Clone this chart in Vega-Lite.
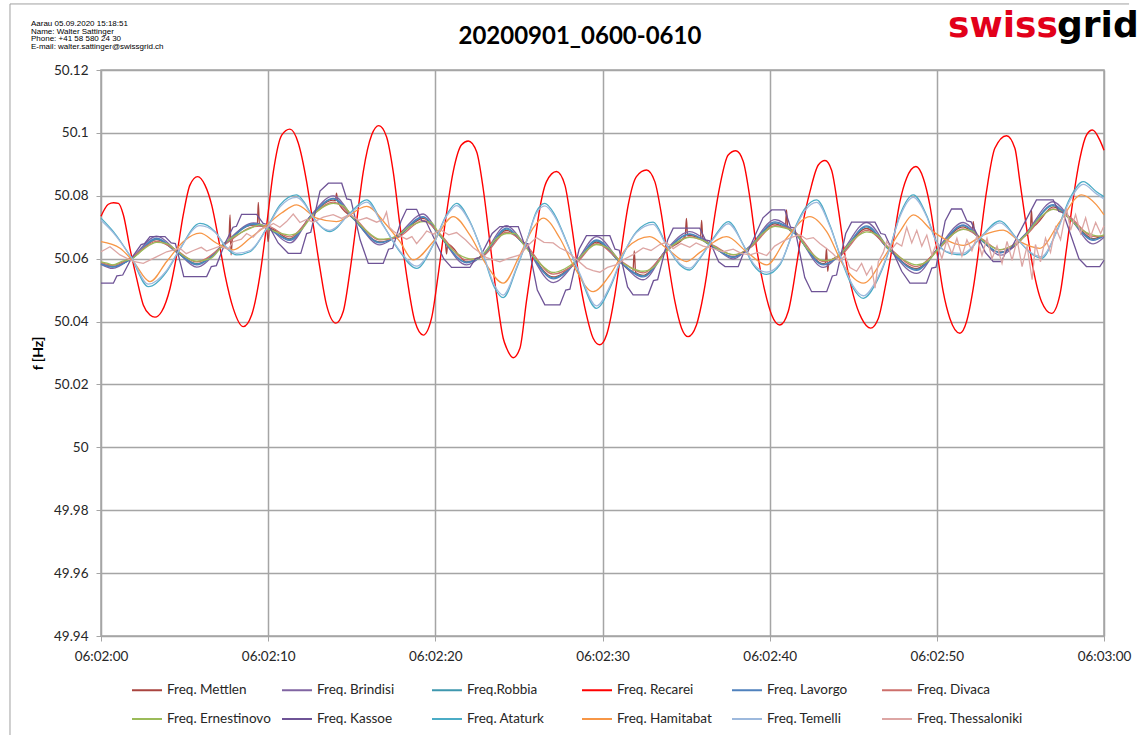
{
"$schema": "https://vega.github.io/schema/vega-lite/v6.json",
"width": 1003, "height": 566,
"autosize": {"type": "none"},
"padding": {"left": 101, "top": 70, "right": 36, "bottom": 99},
"background": "white",
"config": {
 "font": "Lato",
 "view": {"stroke": "#A5A5A5", "strokeWidth": 1.5},
 "axis": {"gridColor": "#A5A5A5", "gridWidth": 1.5, "tickColor": "#A5A5A5", "tickSize": 5, "labelFont": "Lato", "labelFontSize": 13.5, "labelColor": "#262626", "domain": false}
},
"datasets": {
"Mettlen": [{"t":0,"f":50.0584},{"t":0.7,"f":50.0575},{"t":1.85,"f":50.0601},{"t":3.33,"f":50.0661},{"t":4.53,"f":50.0621},{"t":5.72,"f":50.0584},{"t":7.42,"f":50.0648},{"t":7.65,"f":50.066},{"t":7.72,"f":50.0739},{"t":7.78,"f":50.0612},{"t":7.86,"f":50.0662},{"t":8.28,"f":50.069},{"t":9.13,"f":50.0707},{"t":9.35,"f":50.0707},{"t":9.41,"f":50.0779},{"t":9.48,"f":50.0705},{"t":9.91,"f":50.0699},{"t":10.0,"f":50.0654},{"t":10.08,"f":50.0696},{"t":11.3,"f":50.0663},{"t":12.6,"f":50.0738},{"t":13.89,"f":50.0786},{"t":14.02,"f":50.0784},{"t":14.09,"f":50.0808},{"t":14.16,"f":50.0782},{"t":15.09,"f":50.0728},{"t":16.68,"f":50.0653},{"t":17.68,"f":50.0669},{"t":19.28,"f":50.0728},{"t":20.17,"f":50.068},{"t":20.6,"f":50.065},{"t":20.67,"f":50.0615},{"t":20.74,"f":50.0646},{"t":21.87,"f":50.059},{"t":22.86,"f":50.0611},{"t":24.26,"f":50.069},{"t":25.26,"f":50.0648},{"t":27.05,"f":50.0542},{"t":28.45,"f":50.059},{"t":29.64,"f":50.0653},{"t":31.04,"f":50.059},{"t":31.82,"f":50.0558},{"t":31.9,"f":50.0625},{"t":31.98,"f":50.0556},{"t":32.43,"f":50.0547},{"t":33.83,"f":50.0627},{"t":34.95,"f":50.0672},{"t":35.02,"f":50.0728},{"t":35.09,"f":50.0673},{"t":35.22,"f":50.0674},{"t":35.86,"f":50.0666},{"t":35.93,"f":50.0722},{"t":36.0,"f":50.0664},{"t":36.63,"f":50.0637},{"t":37.82,"f":50.0606},{"t":38.82,"f":50.0637},{"t":40.32,"f":50.0711},{"t":40.94,"f":50.07},{"t":41.01,"f":50.0755},{"t":41.08,"f":50.0698},{"t":41.51,"f":50.068},{"t":43.21,"f":50.0584},{"t":43.33,"f":50.0586},{"t":43.4,"f":50.0633},{"t":43.47,"f":50.056},{"t":43.54,"f":50.0588},{"t":44.2,"f":50.0611},{"t":45.8,"f":50.0696},{"t":47.09,"f":50.0632},{"t":48.79,"f":50.0568},{"t":50.08,"f":50.0632},{"t":51.58,"f":50.0701},{"t":52.11,"f":50.0689},{"t":52.18,"f":50.0718},{"t":52.25,"f":50.0686},{"t":52.67,"f":50.0659},{"t":53.77,"f":50.0621},{"t":55.27,"f":50.0674},{"t":55.6,"f":50.07},{"t":55.66,"f":50.0755},{"t":55.72,"f":50.0703},{"t":56.96,"f":50.0765},{"t":57.96,"f":50.0727},{"t":59.35,"f":50.0664},{"t":60,"f":50.0674}],
"Brindisi": [{"t":0,"f":50.0582},{"t":0.7,"f":50.0569},{"t":1.85,"f":50.0604},{"t":3.33,"f":50.0672},{"t":4.53,"f":50.0624},{"t":5.72,"f":50.0573},{"t":7.42,"f":50.0651},{"t":9.13,"f":50.0714},{"t":9.91,"f":50.0702},{"t":11.3,"f":50.065},{"t":12.6,"f":50.0741},{"t":13.89,"f":50.08},{"t":15.09,"f":50.0731},{"t":16.68,"f":50.0644},{"t":17.68,"f":50.0672},{"t":19.28,"f":50.0742},{"t":20.17,"f":50.0683},{"t":21.87,"f":50.058},{"t":22.86,"f":50.0614},{"t":24.26,"f":50.0705},{"t":25.26,"f":50.0651},{"t":27.05,"f":50.0524},{"t":28.45,"f":50.0593},{"t":29.64,"f":50.067},{"t":31.04,"f":50.0593},{"t":32.43,"f":50.0533},{"t":33.83,"f":50.063},{"t":35.22,"f":50.0686},{"t":36.63,"f":50.064},{"t":37.82,"f":50.0599},{"t":38.82,"f":50.064},{"t":40.32,"f":50.0724},{"t":41.51,"f":50.0683},{"t":43.21,"f":50.0572},{"t":44.2,"f":50.0614},{"t":45.8,"f":50.0715},{"t":47.09,"f":50.0635},{"t":48.79,"f":50.0553},{"t":50.08,"f":50.0635},{"t":51.58,"f":50.0715},{"t":52.67,"f":50.0662},{"t":53.77,"f":50.0611},{"t":55.27,"f":50.0677},{"t":56.96,"f":50.0781},{"t":57.96,"f":50.073},{"t":59.35,"f":50.0647},{"t":60,"f":50.0668}],
"Robbia": [{"t":0,"f":50.0584},{"t":0.7,"f":50.0575},{"t":1.85,"f":50.06},{"t":3.33,"f":50.0662},{"t":4.53,"f":50.062},{"t":5.72,"f":50.0583},{"t":7.42,"f":50.0647},{"t":9.13,"f":50.0709},{"t":9.91,"f":50.0698},{"t":11.3,"f":50.0661},{"t":12.6,"f":50.0737},{"t":13.89,"f":50.079},{"t":15.09,"f":50.0727},{"t":16.68,"f":50.0652},{"t":17.68,"f":50.0668},{"t":19.28,"f":50.0732},{"t":20.17,"f":50.0679},{"t":21.87,"f":50.0589},{"t":22.86,"f":50.061},{"t":24.26,"f":50.0694},{"t":25.26,"f":50.0647},{"t":27.05,"f":50.0539},{"t":28.45,"f":50.0589},{"t":29.64,"f":50.0657},{"t":31.04,"f":50.0589},{"t":32.43,"f":50.0545},{"t":33.83,"f":50.0626},{"t":35.22,"f":50.0677},{"t":36.63,"f":50.0636},{"t":37.82,"f":50.0605},{"t":38.82,"f":50.0636},{"t":40.32,"f":50.0714},{"t":41.51,"f":50.0679},{"t":43.21,"f":50.0582},{"t":44.2,"f":50.061},{"t":45.8,"f":50.0701},{"t":47.09,"f":50.0631},{"t":48.79,"f":50.0566},{"t":50.08,"f":50.0631},{"t":51.58,"f":50.0705},{"t":52.67,"f":50.0658},{"t":53.77,"f":50.062},{"t":55.27,"f":50.0673},{"t":56.96,"f":50.0769},{"t":57.96,"f":50.0726},{"t":59.35,"f":50.0661},{"t":60,"f":50.0673}],
"Recarei": [{"t":0,"f":50.0735},{"t":0.44,"f":50.0773},{"t":0.75,"f":50.0778},{"t":1.04,"f":50.0776},{"t":1.34,"f":50.0739},{"t":1.73,"f":50.0633},{"t":2.13,"f":50.0538},{"t":2.53,"f":50.0453},{"t":2.93,"f":50.0421},{"t":3.23,"f":50.0414},{"t":3.63,"f":50.0432},{"t":4.13,"f":50.0506},{"t":4.53,"f":50.0612},{"t":4.92,"f":50.0739},{"t":5.32,"f":50.0834},{"t":5.78,"f":50.0861},{"t":6.22,"f":50.0834},{"t":6.62,"f":50.0771},{"t":7.02,"f":50.0665},{"t":7.42,"f":50.0548},{"t":7.91,"f":50.0442},{"t":8.51,"f":50.0384},{"t":9.01,"f":50.0421},{"t":9.51,"f":50.0548},{"t":9.91,"f":50.0707},{"t":10.31,"f":50.0877},{"t":10.81,"f":50.0993},{"t":11.3,"f":50.1012},{"t":11.8,"f":50.0968},{"t":12.3,"f":50.0845},{"t":12.7,"f":50.0707},{"t":13.1,"f":50.0569},{"t":13.49,"f":50.0453},{"t":14.05,"f":50.0395},{"t":14.49,"f":50.0432},{"t":14.89,"f":50.0559},{"t":15.29,"f":50.0718},{"t":15.69,"f":50.0877},{"t":16.19,"f":50.0993},{"t":16.62,"f":50.1023},{"t":17.08,"f":50.0988},{"t":17.48,"f":50.0877},{"t":17.88,"f":50.0707},{"t":18.28,"f":50.0548},{"t":18.78,"f":50.04},{"t":19.28,"f":50.0357},{"t":19.77,"f":50.041},{"t":20.17,"f":50.0548},{"t":20.57,"f":50.0707},{"t":21.07,"f":50.0877},{"t":21.57,"f":50.0962},{"t":21.97,"f":50.0974},{"t":22.47,"f":50.094},{"t":22.86,"f":50.0824},{"t":23.26,"f":50.0654},{"t":23.66,"f":50.0485},{"t":24.06,"f":50.0347},{"t":24.26,"f":50.0316},{"t":24.66,"f":50.0285},{"t":25.06,"f":50.0315},{"t":25.45,"f":50.0464},{"t":25.85,"f":50.0612},{"t":26.25,"f":50.076},{"t":26.65,"f":50.0845},{"t":27.25,"f":50.0877},{"t":27.75,"f":50.0834},{"t":28.15,"f":50.0707},{"t":28.55,"f":50.0559},{"t":29.04,"f":50.0421},{"t":29.44,"f":50.0347},{"t":29.84,"f":50.0326},{"t":30.24,"f":50.0357},{"t":30.74,"f":50.0485},{"t":31.14,"f":50.0633},{"t":31.54,"f":50.0771},{"t":32.03,"f":50.0861},{"t":32.63,"f":50.0882},{"t":33.13,"f":50.0845},{"t":33.53,"f":50.0739},{"t":33.93,"f":50.0591},{"t":34.33,"f":50.0464},{"t":34.73,"f":50.0379},{"t":35.12,"f":50.0352},{"t":35.62,"f":50.0389},{"t":35.83,"f":50.0432},{"t":36.23,"f":50.0548},{"t":36.63,"f":50.0707},{"t":37.03,"f":50.0834},{"t":37.52,"f":50.093},{"t":37.98,"f":50.0943},{"t":38.42,"f":50.0909},{"t":38.82,"f":50.0792},{"t":39.22,"f":50.0633},{"t":39.72,"f":50.0495},{"t":40.12,"f":50.0421},{"t":40.61,"f":50.0389},{"t":41.11,"f":50.0432},{"t":41.61,"f":50.058},{"t":42.01,"f":50.0718},{"t":42.41,"f":50.0813},{"t":42.91,"f":50.0898},{"t":43.31,"f":50.0912},{"t":43.7,"f":50.0882},{"t":44.1,"f":50.076},{"t":44.5,"f":50.0612},{"t":45.0,"f":50.0485},{"t":45.5,"f":50.041},{"t":46.04,"f":50.0379},{"t":46.5,"f":50.041},{"t":46.9,"f":50.0506},{"t":47.39,"f":50.0654},{"t":47.79,"f":50.0781},{"t":48.19,"f":50.0856},{"t":48.75,"f":50.0893},{"t":49.19,"f":50.0856},{"t":49.58,"f":50.0771},{"t":49.98,"f":50.0633},{"t":50.38,"f":50.0495},{"t":50.78,"f":50.041},{"t":51.38,"f":50.0363},{"t":51.78,"f":50.04},{"t":52.18,"f":50.0506},{"t":52.57,"f":50.0654},{"t":52.97,"f":50.0813},{"t":53.47,"f":50.0951},{"t":54.17,"f":50.0991},{"t":54.67,"f":50.0951},{"t":54.97,"f":50.0845},{"t":55.37,"f":50.0697},{"t":55.76,"f":50.0569},{"t":56.26,"f":50.0464},{"t":56.86,"f":50.0426},{"t":57.36,"f":50.0485},{"t":57.76,"f":50.0633},{"t":58.16,"f":50.0792},{"t":58.56,"f":50.0919},{"t":58.95,"f":50.0993},{"t":59.31,"f":50.1009},{"t":59.75,"f":50.0977},{"t":60,"f":50.0945}],
"Lavorgo": [{"t":0,"f":50.0583},{"t":0.7,"f":50.0573},{"t":1.85,"f":50.0602},{"t":3.33,"f":50.0665},{"t":4.53,"f":50.0622},{"t":5.72,"f":50.058},{"t":7.42,"f":50.0649},{"t":9.13,"f":50.0711},{"t":9.91,"f":50.07},{"t":11.3,"f":50.0658},{"t":12.6,"f":50.0739},{"t":13.89,"f":50.0792},{"t":15.09,"f":50.0729},{"t":16.68,"f":50.065},{"t":17.68,"f":50.067},{"t":19.28,"f":50.0734},{"t":20.17,"f":50.0681},{"t":21.87,"f":50.0587},{"t":22.86,"f":50.0612},{"t":24.26,"f":50.0697},{"t":25.26,"f":50.0649},{"t":27.05,"f":50.0536},{"t":28.45,"f":50.0591},{"t":29.64,"f":50.066},{"t":31.04,"f":50.0591},{"t":32.43,"f":50.0542},{"t":33.83,"f":50.0628},{"t":35.22,"f":50.0679},{"t":36.63,"f":50.0638},{"t":37.82,"f":50.0604},{"t":38.82,"f":50.0638},{"t":40.32,"f":50.0717},{"t":41.51,"f":50.0681},{"t":43.21,"f":50.058},{"t":44.2,"f":50.0612},{"t":45.8,"f":50.0704},{"t":47.09,"f":50.0633},{"t":48.79,"f":50.0563},{"t":50.08,"f":50.0633},{"t":51.58,"f":50.0707},{"t":52.67,"f":50.066},{"t":53.77,"f":50.0618},{"t":55.27,"f":50.0675},{"t":56.96,"f":50.0772},{"t":57.96,"f":50.0728},{"t":59.35,"f":50.0658},{"t":60,"f":50.0672}],
"Divaca": [{"t":0,"f":50.0588},{"t":0.7,"f":50.0579},{"t":1.85,"f":50.0605},{"t":3.33,"f":50.0655},{"t":4.53,"f":50.0626},{"t":5.72,"f":50.059},{"t":7.42,"f":50.0645},{"t":9.13,"f":50.0702},{"t":9.91,"f":50.0704},{"t":11.3,"f":50.0669},{"t":12.6,"f":50.0735},{"t":13.89,"f":50.078},{"t":15.09,"f":50.0733},{"t":16.68,"f":50.066},{"t":17.68,"f":50.0666},{"t":19.28,"f":50.0722},{"t":20.17,"f":50.0685},{"t":21.87,"f":50.0596},{"t":22.86,"f":50.0608},{"t":24.26,"f":50.0684},{"t":25.26,"f":50.0653},{"t":27.05,"f":50.0551},{"t":28.45,"f":50.0587},{"t":29.64,"f":50.0648},{"t":31.04,"f":50.0595},{"t":32.43,"f":50.0555},{"t":33.83,"f":50.0624},{"t":35.22,"f":50.0669},{"t":36.63,"f":50.0642},{"t":37.82,"f":50.0612},{"t":38.82,"f":50.0634},{"t":40.32,"f":50.0705},{"t":41.51,"f":50.0685},{"t":43.21,"f":50.0591},{"t":44.2,"f":50.0608},{"t":45.8,"f":50.069},{"t":47.09,"f":50.0637},{"t":48.79,"f":50.0575},{"t":50.08,"f":50.0629},{"t":51.58,"f":50.0695},{"t":52.67,"f":50.0664},{"t":53.77,"f":50.0628},{"t":55.27,"f":50.0671},{"t":56.96,"f":50.0758},{"t":57.96,"f":50.0732},{"t":59.35,"f":50.0671},{"t":60,"f":50.0672}],
"Ernestinovo": [{"t":0,"f":50.059},{"t":0.35,"f":50.0586},{"t":0.7,"f":50.058},{"t":1.28,"f":50.0592},{"t":1.85,"f":50.06},{"t":2.59,"f":50.0632},{"t":3.33,"f":50.0652},{"t":3.93,"f":50.0648},{"t":4.53,"f":50.0625},{"t":5.13,"f":50.0603},{"t":5.72,"f":50.0592},{"t":6.57,"f":50.0601},{"t":7.42,"f":50.0651},{"t":8.28,"f":50.068},{"t":9.13,"f":50.0701},{"t":9.52,"f":50.0709},{"t":9.91,"f":50.0697},{"t":10.6,"f":50.0683},{"t":11.3,"f":50.0675},{"t":11.95,"f":50.069},{"t":12.6,"f":50.0734},{"t":13.25,"f":50.0763},{"t":13.89,"f":50.0776},{"t":14.49,"f":50.0768},{"t":15.09,"f":50.0731},{"t":15.89,"f":50.0688},{"t":16.68,"f":50.0662},{"t":17.18,"f":50.0664},{"t":17.68,"f":50.0672},{"t":18.48,"f":50.0703},{"t":19.28,"f":50.0718},{"t":19.73,"f":50.0716},{"t":20.17,"f":50.0684},{"t":21.02,"f":50.0628},{"t":21.87,"f":50.0602},{"t":22.37,"f":50.0598},{"t":22.86,"f":50.0615},{"t":23.56,"f":50.0659},{"t":24.26,"f":50.068},{"t":24.76,"f":50.068},{"t":25.26,"f":50.0646},{"t":26.16,"f":50.059},{"t":27.05,"f":50.0556},{"t":27.75,"f":50.0568},{"t":28.45,"f":50.0594},{"t":29.05,"f":50.0626},{"t":29.64,"f":50.0645},{"t":30.34,"f":50.0634},{"t":31.04,"f":50.0593},{"t":31.74,"f":50.057},{"t":32.43,"f":50.056},{"t":33.13,"f":50.0576},{"t":33.83,"f":50.0625},{"t":34.53,"f":50.0654},{"t":35.22,"f":50.0668},{"t":35.93,"f":50.066},{"t":36.63,"f":50.064},{"t":37.23,"f":50.0622},{"t":37.82,"f":50.0613},{"t":38.32,"f":50.0618},{"t":38.82,"f":50.0636},{"t":39.57,"f":50.068},{"t":40.32,"f":50.0703},{"t":40.92,"f":50.0697},{"t":41.51,"f":50.0684},{"t":42.36,"f":50.0625},{"t":43.21,"f":50.0594},{"t":43.71,"f":50.0597},{"t":44.2,"f":50.0614},{"t":45.0,"f":50.066},{"t":45.8,"f":50.0685},{"t":46.45,"f":50.0675},{"t":47.09,"f":50.0634},{"t":47.94,"f":50.0599},{"t":48.79,"f":50.058},{"t":49.44,"f":50.0592},{"t":50.08,"f":50.063},{"t":50.83,"f":50.0672},{"t":51.58,"f":50.0693},{"t":52.13,"f":50.0688},{"t":52.67,"f":50.0662},{"t":53.22,"f":50.064},{"t":53.77,"f":50.0629},{"t":54.52,"f":50.0641},{"t":55.27,"f":50.0673},{"t":56.12,"f":50.0728},{"t":56.96,"f":50.0757},{"t":57.46,"f":50.075},{"t":57.96,"f":50.0726},{"t":58.66,"f":50.0692},{"t":59.35,"f":50.0675},{"t":59.68,"f":50.0672},{"t":60,"f":50.0676}],
"Kassoe": [{"t":0,"f":50.0522},{"t":0.74,"f":50.0522},{"t":0.95,"f":50.0545},{"t":1.3,"f":50.0548},{"t":1.83,"f":50.0602},{"t":2.4,"f":50.0645},{"t":2.6,"f":50.0648},{"t":2.93,"f":50.067},{"t":3.83,"f":50.067},{"t":4.2,"f":50.065},{"t":4.45,"f":50.0648},{"t":4.85,"f":50.0565},{"t":4.95,"f":50.0543},{"t":6.32,"f":50.0543},{"t":6.6,"f":50.0575},{"t":6.9,"f":50.0578},{"t":7.42,"f":50.0649},{"t":7.9,"f":50.07},{"t":8.1,"f":50.0703},{"t":8.41,"f":50.0741},{"t":9.31,"f":50.0741},{"t":9.7,"f":50.0712},{"t":10.0,"f":50.0708},{"t":10.6,"f":50.065},{"t":11.2,"f":50.0617},{"t":11.95,"f":50.0617},{"t":12.3,"f":50.068},{"t":12.55,"f":50.0684},{"t":13.1,"f":50.0815},{"t":13.6,"f":50.084},{"t":14.4,"f":50.084},{"t":14.7,"f":50.079},{"t":14.95,"f":50.0787},{"t":15.5,"f":50.066},{"t":15.99,"f":50.0585},{"t":16.88,"f":50.0585},{"t":17.2,"f":50.063},{"t":17.45,"f":50.0633},{"t":17.95,"f":50.072},{"t":18.28,"f":50.0757},{"t":18.88,"f":50.0757},{"t":19.2,"f":50.072},{"t":19.45,"f":50.0718},{"t":20.5,"f":50.06},{"t":20.97,"f":50.0572},{"t":22.07,"f":50.0572},{"t":22.4,"f":50.06},{"t":22.65,"f":50.0603},{"t":23.4,"f":50.068},{"t":23.86,"f":50.0702},{"t":24.96,"f":50.0702},{"t":25.3,"f":50.065},{"t":25.55,"f":50.0647},{"t":26.1,"f":50.05},{"t":26.55,"f":50.0453},{"t":27.45,"f":50.0453},{"t":27.8,"f":50.05},{"t":28.05,"f":50.0503},{"t":28.6,"f":50.063},{"t":29.04,"f":50.0673},{"t":30.44,"f":50.0673},{"t":30.75,"f":50.063},{"t":31.0,"f":50.0627},{"t":31.5,"f":50.051},{"t":31.83,"f":50.0485},{"t":32.73,"f":50.0485},{"t":33.05,"f":50.053},{"t":33.3,"f":50.0533},{"t":33.9,"f":50.066},{"t":34.23,"f":50.0697},{"t":35.82,"f":50.0697},{"t":36.15,"f":50.066},{"t":36.4,"f":50.0657},{"t":36.95,"f":50.059},{"t":37.33,"f":50.0575},{"t":38.12,"f":50.0575},{"t":38.45,"f":50.062},{"t":38.7,"f":50.0623},{"t":39.6,"f":50.073},{"t":40.12,"f":50.0755},{"t":40.91,"f":50.0755},{"t":41.25,"f":50.07},{"t":41.5,"f":50.0697},{"t":42.1,"f":50.054},{"t":42.51,"f":50.0495},{"t":43.41,"f":50.0495},{"t":43.75,"f":50.0545},{"t":44.0,"f":50.0548},{"t":44.55,"f":50.068},{"t":44.9,"f":50.0716},{"t":46.3,"f":50.0716},{"t":46.65,"f":50.068},{"t":46.9,"f":50.0677},{"t":47.9,"f":50.056},{"t":48.39,"f":50.0522},{"t":49.38,"f":50.0522},{"t":49.7,"f":50.057},{"t":49.95,"f":50.0573},{"t":50.5,"f":50.072},{"t":50.88,"f":50.0758},{"t":51.48,"f":50.0758},{"t":51.8,"f":50.072},{"t":52.05,"f":50.0717},{"t":52.9,"f":50.062},{"t":53.37,"f":50.0591},{"t":53.87,"f":50.0591},{"t":54.2,"f":50.063},{"t":54.45,"f":50.0633},{"t":55.5,"f":50.074},{"t":55.96,"f":50.0787},{"t":56.96,"f":50.0787},{"t":57.3,"f":50.075},{"t":57.55,"f":50.0747},{"t":58.5,"f":50.06},{"t":58.95,"f":50.0575},{"t":59.75,"f":50.0575},{"t":60,"f":50.0595}],
"Ataturk": [{"t":0,"f":50.0729},{"t":0.74,"f":50.0686},{"t":1.83,"f":50.0601},{"t":2.83,"f":50.0511},{"t":3.93,"f":50.0559},{"t":4.63,"f":50.0622},{"t":5.92,"f":50.0712},{"t":6.82,"f":50.0686},{"t":7.52,"f":50.0633},{"t":8.11,"f":50.0612},{"t":8.91,"f":50.0622},{"t":9.91,"f":50.0697},{"t":10.71,"f":50.0771},{"t":11.7,"f":50.0803},{"t":12.2,"f":50.0776},{"t":12.6,"f":50.0739},{"t":13.69,"f":50.0686},{"t":14.89,"f":50.0745},{"t":15.89,"f":50.0787},{"t":16.88,"f":50.0707},{"t":17.88,"f":50.0622},{"t":18.88,"f":50.0569},{"t":19.87,"f":50.0644},{"t":20.67,"f":50.0739},{"t":21.27,"f":50.0776},{"t":22.07,"f":50.0718},{"t":22.86,"f":50.0612},{"t":23.56,"f":50.0506},{"t":24.06,"f":50.0476},{"t":24.86,"f":50.0569},{"t":25.45,"f":50.0654},{"t":26.05,"f":50.075},{"t":26.55,"f":50.0776},{"t":27.15,"f":50.0739},{"t":27.85,"f":50.0654},{"t":28.64,"f":50.0548},{"t":29.64,"f":50.0442},{"t":30.44,"f":50.0506},{"t":31.24,"f":50.0612},{"t":32.03,"f":50.0686},{"t":33.03,"f":50.0716},{"t":33.83,"f":50.0644},{"t":34.63,"f":50.058},{"t":35.22,"f":50.0564},{"t":35.83,"f":50.0601},{"t":36.63,"f":50.0665},{"t":37.52,"f":50.0718},{"t":38.42,"f":50.0644},{"t":39.02,"f":50.058},{"t":39.82,"f":50.055},{"t":40.61,"f":50.058},{"t":41.41,"f":50.0686},{"t":42.11,"f":50.076},{"t":42.81,"f":50.0787},{"t":43.6,"f":50.0707},{"t":44.4,"f":50.058},{"t":45.0,"f":50.0506},{"t":45.6,"f":50.0474},{"t":46.4,"f":50.0527},{"t":47.19,"f":50.0633},{"t":47.79,"f":50.0739},{"t":48.59,"f":50.0803},{"t":49.38,"f":50.0739},{"t":49.98,"f":50.0654},{"t":50.78,"f":50.0617},{"t":51.58,"f":50.0612},{"t":52.57,"f":50.0665},{"t":53.77,"f":50.072},{"t":54.77,"f":50.0665},{"t":55.76,"f":50.0612},{"t":56.26,"f":50.0601},{"t":57.16,"f":50.0686},{"t":57.96,"f":50.0792},{"t":58.76,"f":50.0845},{"t":59.55,"f":50.0813},{"t":60,"f":50.0797}],
"Hamitabat": [{"t":0,"f":50.0654},{"t":1.14,"f":50.0633},{"t":1.93,"f":50.0591},{"t":2.93,"f":50.0527},{"t":3.93,"f":50.0591},{"t":4.92,"f":50.0654},{"t":5.92,"f":50.0681},{"t":6.92,"f":50.0649},{"t":7.91,"f":50.0628},{"t":8.91,"f":50.0665},{"t":9.91,"f":50.0707},{"t":10.8,"f":50.0745},{"t":11.7,"f":50.0771},{"t":12.9,"f":50.0729},{"t":14.09,"f":50.0718},{"t":15.89,"f":50.0766},{"t":17.08,"f":50.0707},{"t":17.88,"f":50.0654},{"t":18.68,"f":50.0596},{"t":19.87,"f":50.0654},{"t":21.07,"f":50.0734},{"t":22.07,"f":50.0675},{"t":23.06,"f":50.058},{"t":24.06,"f":50.0522},{"t":25.06,"f":50.0612},{"t":25.85,"f":50.0697},{"t":26.45,"f":50.0729},{"t":27.45,"f":50.0665},{"t":28.25,"f":50.058},{"t":29.44,"f":50.0495},{"t":30.44,"f":50.0548},{"t":31.44,"f":50.0633},{"t":32.83,"f":50.067},{"t":33.83,"f":50.0633},{"t":35.02,"f":50.0591},{"t":35.83,"f":50.062},{"t":37.42,"f":50.067},{"t":38.62,"f":50.0622},{"t":39.82,"f":50.058},{"t":41.01,"f":50.0665},{"t":42.41,"f":50.0734},{"t":43.41,"f":50.0686},{"t":44.4,"f":50.058},{"t":45.6,"f":50.0522},{"t":46.8,"f":50.0601},{"t":47.79,"f":50.0686},{"t":48.59,"f":50.0739},{"t":49.78,"f":50.0686},{"t":50.78,"f":50.0654},{"t":51.58,"f":50.0642},{"t":52.77,"f":50.0675},{"t":53.97,"f":50.0691},{"t":54.97,"f":50.0654},{"t":56.16,"f":50.0633},{"t":57.36,"f":50.0718},{"t":58.66,"f":50.0803},{"t":59.55,"f":50.0771},{"t":60,"f":50.0739}],
"Temelli": [{"t":0,"f":50.0722},{"t":0.74,"f":50.0682},{"t":1.83,"f":50.0603},{"t":2.83,"f":50.0519},{"t":3.93,"f":50.0563},{"t":4.63,"f":50.0623},{"t":5.92,"f":50.0705},{"t":6.82,"f":50.0684},{"t":7.52,"f":50.0636},{"t":8.11,"f":50.0617},{"t":8.91,"f":50.0626},{"t":9.91,"f":50.0695},{"t":10.71,"f":50.0765},{"t":11.7,"f":50.0795},{"t":12.2,"f":50.0772},{"t":12.6,"f":50.0737},{"t":13.69,"f":50.069},{"t":14.89,"f":50.0742},{"t":15.89,"f":50.078},{"t":16.88,"f":50.0705},{"t":17.88,"f":50.0625},{"t":18.88,"f":50.0576},{"t":19.87,"f":50.0645},{"t":20.67,"f":50.0735},{"t":21.27,"f":50.0769},{"t":22.07,"f":50.0715},{"t":22.86,"f":50.0614},{"t":23.56,"f":50.0513},{"t":24.06,"f":50.0484},{"t":24.86,"f":50.0573},{"t":25.45,"f":50.0654},{"t":26.05,"f":50.0745},{"t":26.55,"f":50.0768},{"t":27.15,"f":50.0733},{"t":27.85,"f":50.0652},{"t":28.64,"f":50.0553},{"t":29.64,"f":50.045},{"t":30.44,"f":50.0512},{"t":31.24,"f":50.0614},{"t":32.03,"f":50.0683},{"t":33.03,"f":50.0709},{"t":33.83,"f":50.0642},{"t":34.63,"f":50.0584},{"t":35.22,"f":50.057},{"t":35.83,"f":50.0604},{"t":36.63,"f":50.0662},{"t":37.52,"f":50.0711},{"t":38.42,"f":50.0645},{"t":39.02,"f":50.0585},{"t":39.82,"f":50.0557},{"t":40.61,"f":50.0584},{"t":41.41,"f":50.0683},{"t":42.11,"f":50.0753},{"t":42.81,"f":50.0779},{"t":43.6,"f":50.0703},{"t":44.4,"f":50.0584},{"t":45.0,"f":50.0513},{"t":45.6,"f":50.0482},{"t":46.4,"f":50.0533},{"t":47.19,"f":50.0634},{"t":47.79,"f":50.0733},{"t":48.59,"f":50.0795},{"t":49.38,"f":50.0735},{"t":49.98,"f":50.0653},{"t":50.78,"f":50.062},{"t":51.58,"f":50.0617},{"t":52.57,"f":50.0664},{"t":53.77,"f":50.0714},{"t":54.77,"f":50.0664},{"t":55.76,"f":50.0615},{"t":56.26,"f":50.0606},{"t":57.16,"f":50.0684},{"t":57.96,"f":50.0785},{"t":58.76,"f":50.0836},{"t":59.55,"f":50.0806},{"t":60,"f":50.079}],
"Thessaloniki": [{"t":0,"f":50.0622},{"t":0.54,"f":50.0638},{"t":1.14,"f":50.0612},{"t":1.93,"f":50.0591},{"t":2.53,"f":50.0585},{"t":3.13,"f":50.0601},{"t":3.93,"f":50.0622},{"t":4.72,"f":50.0633},{"t":5.1,"f":50.0616},{"t":5.52,"f":50.0626},{"t":6.0,"f":50.0636},{"t":6.32,"f":50.0624},{"t":7.12,"f":50.064},{"t":7.6,"f":50.063},{"t":7.91,"f":50.0654},{"t":8.4,"f":50.0662},{"t":8.71,"f":50.068},{"t":9.1,"f":50.0668},{"t":9.51,"f":50.0693},{"t":10.0,"f":50.0702},{"t":10.31,"f":50.0712},{"t":10.7,"f":50.07},{"t":11.1,"f":50.0718},{"t":11.5,"f":50.0742},{"t":11.9,"f":50.0715},{"t":12.3,"f":50.0725},{"t":12.7,"f":50.0716},{"t":13.3,"f":50.0732},{"t":13.89,"f":50.074},{"t":14.4,"f":50.0728},{"t":14.89,"f":50.0741},{"t":15.4,"f":50.0722},{"t":15.89,"f":50.073},{"t":16.49,"f":50.0716},{"t":16.9,"f":50.0725},{"t":17.08,"f":50.0748},{"t":17.25,"f":50.07},{"t":17.48,"f":50.0688},{"t":17.9,"f":50.0672},{"t":18.28,"f":50.0662},{"t":18.6,"f":50.067},{"t":18.88,"f":50.0648},{"t":19.2,"f":50.0668},{"t":19.48,"f":50.0688},{"t":19.9,"f":50.0678},{"t":20.27,"f":50.0693},{"t":20.8,"f":50.0676},{"t":21.27,"f":50.0683},{"t":21.8,"f":50.066},{"t":22.27,"f":50.0635},{"t":22.7,"f":50.0618},{"t":23.06,"f":50.0603},{"t":23.5,"f":50.0596},{"t":23.86,"f":50.059},{"t":24.4,"f":50.0602},{"t":25.06,"f":50.0612},{"t":25.6,"f":50.0645},{"t":26.05,"f":50.0667},{"t":26.5,"f":50.0652},{"t":27.05,"f":50.065},{"t":27.45,"f":50.0634},{"t":27.85,"f":50.0624},{"t":28.4,"f":50.06},{"t":29.04,"f":50.057},{"t":29.44,"f":50.0562},{"t":29.84,"f":50.0557},{"t":30.3,"f":50.0572},{"t":30.84,"f":50.0581},{"t":31.3,"f":50.0598},{"t":31.83,"f":50.0613},{"t":32.43,"f":50.0634},{"t":32.9,"f":50.0626},{"t":33.43,"f":50.0645},{"t":33.8,"f":50.0652},{"t":34.23,"f":50.0632},{"t":34.7,"f":50.0648},{"t":35.22,"f":50.0636},{"t":35.6,"f":50.065},{"t":36.02,"f":50.064},{"t":36.63,"f":50.0632},{"t":37.2,"f":50.0622},{"t":37.82,"f":50.063},{"t":38.3,"f":50.0617},{"t":38.82,"f":50.0612},{"t":39.3,"f":50.062},{"t":39.82,"f":50.061},{"t":40.3,"f":50.064},{"t":40.81,"f":50.0656},{"t":41.3,"f":50.0668},{"t":41.81,"f":50.0676},{"t":42.2,"f":50.0662},{"t":42.61,"f":50.0667},{"t":43.0,"f":50.0648},{"t":43.41,"f":50.0632},{"t":43.8,"f":50.0615},{"t":44.2,"f":50.0592},{"t":44.5,"f":50.061},{"t":44.8,"f":50.0572},{"t":45.2,"f":50.056},{"t":45.5,"f":50.0585},{"t":45.8,"f":50.0548},{"t":46.1,"f":50.0575},{"t":46.3,"f":50.0506},{"t":46.5,"f":50.059},{"t":46.8,"f":50.062},{"t":47.0,"f":50.0655},{"t":47.3,"f":50.063},{"t":47.6,"f":50.065},{"t":47.9,"f":50.064},{"t":48.2,"f":50.07},{"t":48.5,"f":50.065},{"t":48.8,"f":50.069},{"t":49.1,"f":50.064},{"t":49.4,"f":50.0675},{"t":49.7,"f":50.0612},{"t":50.0,"f":50.065},{"t":50.3,"f":50.06},{"t":50.6,"f":50.0658},{"t":50.9,"f":50.0615},{"t":51.2,"f":50.0665},{"t":51.5,"f":50.0608},{"t":51.8,"f":50.066},{"t":52.1,"f":50.0625},{"t":52.4,"f":50.0672},{"t":52.7,"f":50.061},{"t":53.0,"f":50.0665},{"t":53.3,"f":50.06},{"t":53.6,"f":50.064},{"t":53.9,"f":50.0585},{"t":54.2,"f":50.0655},{"t":54.5,"f":50.0595},{"t":54.8,"f":50.066},{"t":55.1,"f":50.0575},{"t":55.4,"f":50.064},{"t":55.7,"f":50.0533},{"t":55.9,"f":50.0645},{"t":56.2,"f":50.059},{"t":56.5,"f":50.0665},{"t":56.8,"f":50.062},{"t":57.1,"f":50.07},{"t":57.4,"f":50.066},{"t":57.76,"f":50.076},{"t":58.0,"f":50.069},{"t":58.3,"f":50.074},{"t":58.6,"f":50.068},{"t":58.9,"f":50.073},{"t":59.2,"f":50.067},{"t":59.5,"f":50.0715},{"t":59.8,"f":50.068},{"t":60,"f":50.0705}]
},
"layer": [
 {"data": {"name": "Mettlen"}, "mark": {"type": "line", "interpolate": "monotone", "strokeWidth": 1.3},
  "encoding": {
   "x": {"field": "t", "type": "quantitative", "scale": {"domain": [0, 60], "nice": false, "zero": false},
     "axis": {"values": [0, 10, 20, 30, 40, 50, 60], "title": null, "grid": true, "labelFlush": false, "labelPadding": 8,
       "labelExpr": "datum.value == 60 ? '06:03:00' : '06:02:' + (datum.value < 10 ? '0' : '') + datum.value"}},
   "y": {"field": "f", "type": "quantitative", "scale": {"domain": [49.94, 50.12], "nice": false, "zero": false},
     "axis": {"values": [49.94, 49.96, 49.98, 50, 50.02, 50.04, 50.06, 50.08, 50.1, 50.12], "format": ".2~f", "title": "f [Hz]", "grid": true,
       "labelPadding": 8, "titleFont": "Lato", "titleFontSize": 14, "titleFontWeight": "bold", "titleColor": "#000000", "titlePadding": 8}},
   "color": {"datum": "Freq. Mettlen", "type": "nominal",
     "scale": {"domain": ["Freq. Mettlen", "Freq. Brindisi", "Freq.Robbia", "Freq. Recarei", "Freq. Lavorgo", "Freq. Divaca", "Freq. Ernestinovo", "Freq. Kassoe", "Freq. Ataturk", "Freq. Hamitabat", "Freq. Temelli", "Freq. Thessaloniki"],
       "range": ["#A9443F", "#8064A2", "#3E97AE", "#FF0000", "#4F81BD", "#CD6F6B", "#9BBB59", "#6E5396", "#4BACC6", "#F79646", "#9DB9DD", "#DDA6A4"]},
     "legend": {"orient": "none", "legendX": 30, "legendY": 604, "columns": 6, "direction": "horizontal", "title": null, "symbolType": "stroke", "symbolSize": 900, "symbolStrokeWidth": 2,
       "labelFont": "Lato", "labelFontSize": 13.5, "labelColor": "#262626", "labelOffset": 4, "rowPadding": 6, "columnPadding": 5, "gridAlign": "all", "labelLimit": 0}}
  }},
 {"data": {"name": "Brindisi"}, "mark": {"type": "line", "interpolate": "monotone", "strokeWidth": 1.3}, "encoding": {"x": {"field": "t", "type": "quantitative"}, "y": {"field": "f", "type": "quantitative"}, "color": {"datum": "Freq. Brindisi", "type": "nominal"}}},
 {"data": {"name": "Robbia"}, "mark": {"type": "line", "interpolate": "monotone", "strokeWidth": 1.3}, "encoding": {"x": {"field": "t", "type": "quantitative"}, "y": {"field": "f", "type": "quantitative"}, "color": {"datum": "Freq.Robbia", "type": "nominal"}}},
 {"data": {"name": "Recarei"}, "mark": {"type": "line", "interpolate": "monotone", "strokeWidth": 1.4}, "encoding": {"x": {"field": "t", "type": "quantitative"}, "y": {"field": "f", "type": "quantitative"}, "color": {"datum": "Freq. Recarei", "type": "nominal"}}},
 {"data": {"name": "Lavorgo"}, "mark": {"type": "line", "interpolate": "monotone", "strokeWidth": 1.3}, "encoding": {"x": {"field": "t", "type": "quantitative"}, "y": {"field": "f", "type": "quantitative"}, "color": {"datum": "Freq. Lavorgo", "type": "nominal"}}},
 {"data": {"name": "Divaca"}, "mark": {"type": "line", "interpolate": "monotone", "strokeWidth": 1.3}, "encoding": {"x": {"field": "t", "type": "quantitative"}, "y": {"field": "f", "type": "quantitative"}, "color": {"datum": "Freq. Divaca", "type": "nominal"}}},
 {"data": {"name": "Ernestinovo"}, "mark": {"type": "line", "interpolate": "monotone", "strokeWidth": 1.3}, "encoding": {"x": {"field": "t", "type": "quantitative"}, "y": {"field": "f", "type": "quantitative"}, "color": {"datum": "Freq. Ernestinovo", "type": "nominal"}}},
 {"data": {"name": "Kassoe"}, "mark": {"type": "line", "interpolate": "linear", "strokeWidth": 1.3}, "encoding": {"x": {"field": "t", "type": "quantitative"}, "y": {"field": "f", "type": "quantitative"}, "color": {"datum": "Freq. Kassoe", "type": "nominal"}}},
 {"data": {"name": "Ataturk"}, "mark": {"type": "line", "interpolate": "monotone", "strokeWidth": 1.3}, "encoding": {"x": {"field": "t", "type": "quantitative"}, "y": {"field": "f", "type": "quantitative"}, "color": {"datum": "Freq. Ataturk", "type": "nominal"}}},
 {"data": {"name": "Hamitabat"}, "mark": {"type": "line", "interpolate": "monotone", "strokeWidth": 1.3}, "encoding": {"x": {"field": "t", "type": "quantitative"}, "y": {"field": "f", "type": "quantitative"}, "color": {"datum": "Freq. Hamitabat", "type": "nominal"}}},
 {"data": {"name": "Temelli"}, "mark": {"type": "line", "interpolate": "monotone", "strokeWidth": 1.3}, "encoding": {"x": {"field": "t", "type": "quantitative"}, "y": {"field": "f", "type": "quantitative"}, "color": {"datum": "Freq. Temelli", "type": "nominal"}}},
 {"data": {"name": "Thessaloniki"}, "mark": {"type": "line", "interpolate": "linear", "strokeWidth": 1.3}, "encoding": {"x": {"field": "t", "type": "quantitative"}, "y": {"field": "f", "type": "quantitative"}, "color": {"datum": "Freq. Thessaloniki", "type": "nominal"}}},
 {"data": {"values": [{}]}, "mark": {"type": "text", "text": "20200901_0600-0610", "align": "center", "baseline": "alphabetic", "font": "Lato", "fontSize": 24, "fontWeight": "bold", "color": "#000000"},
  "encoding": {"x": {"datum": 28.65, "type": "quantitative"}, "y": {"datum": 50.1283, "type": "quantitative"}}},
 {"data": {"values": [{}]}, "mark": {"type": "text", "text": ["Aarau 05.09.2020 15:18:51", "Name: Walter Sattinger", "Phone: +41 58 580 24 30", "E-mail: walter.sattinger@swissgrid.ch"], "align": "left", "baseline": "alphabetic", "font": "Liberation Sans", "fontSize": 8, "lineHeight": 7.7, "color": "#000000"},
  "encoding": {"x": {"datum": -4.19, "type": "quantitative"}, "y": {"datum": 50.134, "type": "quantitative"}}},
 {"data": {"values": [{}]}, "mark": {"type": "text", "text": "swiss", "align": "left", "baseline": "alphabetic", "font": "DejaVu Sans", "fontSize": 36, "fontWeight": "bold", "color": "#E2001A"},
  "encoding": {"x": {"datum": 50.67, "type": "quantitative"}, "y": {"datum": 50.1305, "type": "quantitative"}}},
 {"data": {"values": [{}]}, "mark": {"type": "text", "text": "grid", "align": "left", "baseline": "alphabetic", "font": "DejaVu Sans", "fontSize": 36, "fontWeight": "bold", "color": "#000000"},
  "encoding": {"x": {"datum": 57.19, "type": "quantitative"}, "y": {"datum": 50.1305, "type": "quantitative"}}},
 {"data": {"values": [{}]}, "mark": {"type": "rule", "color": "#A0A0A0", "strokeWidth": 1},
  "encoding": {"x": {"datum": -5.444, "type": "quantitative"}, "y": {"datum": 50.141, "type": "quantitative"}, "y2": {"datum": 49.9085}}},
 {"data": {"values": [{}]}, "mark": {"type": "rule", "color": "#A0A0A0", "strokeWidth": 1},
  "encoding": {"y": {"datum": 50.141, "type": "quantitative"}, "x": {"datum": -5.444, "type": "quantitative"}, "x2": {"datum": 61.5}}}
]
}
